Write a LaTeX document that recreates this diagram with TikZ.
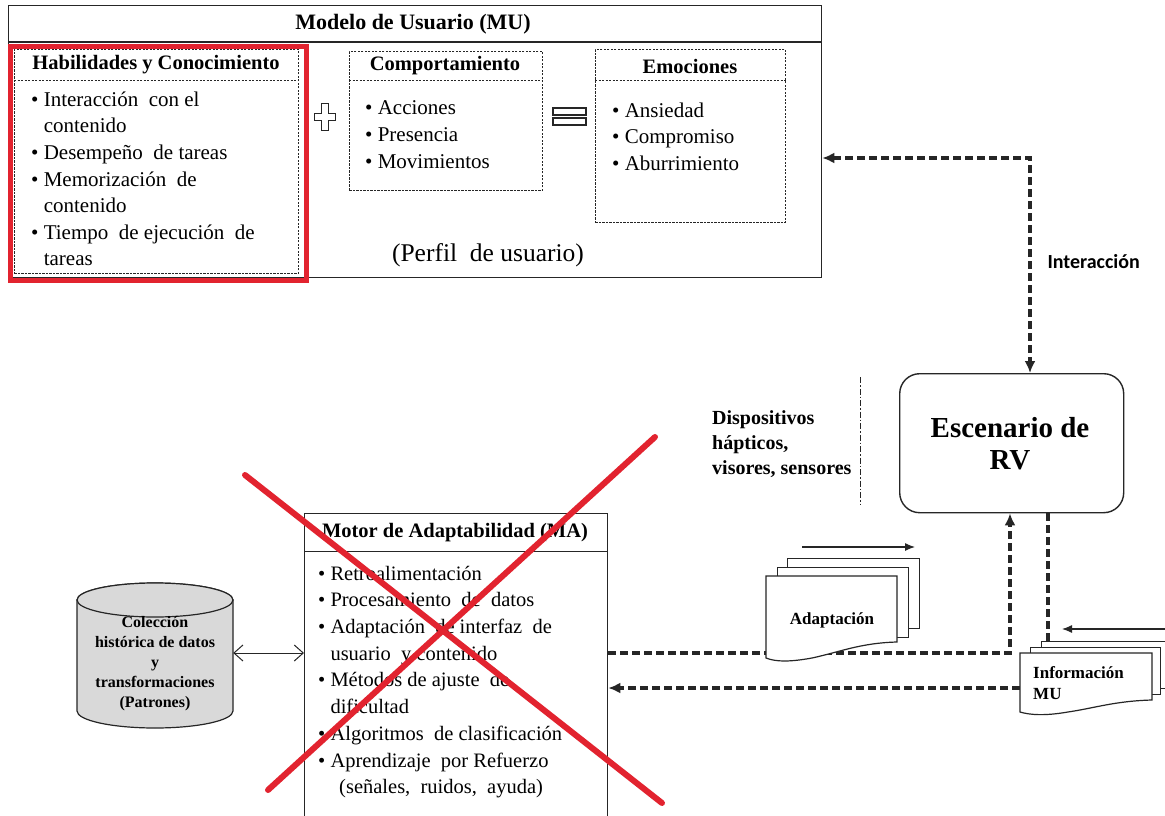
\documentclass[tikz,border=0pt]{standalone}
\usepackage{fontspec}
\setmainfont{Liberation Serif}
\newfontfamily\calibri{Carlito}
\usetikzlibrary{arrows.meta,calc}
\definecolor{xred}{HTML}{E2232F}
\definecolor{cylgray}{HTML}{D9D9D9}
\definecolor{ink}{HTML}{262626}

\begin{document}
\begin{tikzpicture}[x=1pt,y=-1pt,
  box/.style={draw=ink, line width=1.3pt, inner sep=0pt, anchor=north west},
  fine/.style={draw=ink, line width=0.9pt, dash pattern=on 2.2pt off 1.3pt},
  link/.style={draw=ink, line width=3.2pt, dash pattern=on 8pt off 4pt},
  bigtip/.style={-{Latex[length=12pt,width=11pt]}},
  thintip/.style={-{Latex[length=10pt,width=8pt]}},
  page/.style={draw=ink, line width=1.2pt, fill=white},
  sect/.style={font=\bfseries\fontsize{20.5}{24}\selectfont},
  list/.style={align=left, inner sep=0pt, anchor=north west},
  xline/.style={draw=xred, line width=6pt, line cap=round},
]
\useasboundingbox (0,0) rectangle (1165,816);
\fill[white] (0,0) rectangle (1165,816);

% ---------------- User model (MU) ----------------
\node[box, minimum width=813pt, minimum height=272pt] (mu) at (8,5) {};
\coordinate (muline) at (0,42);
\draw[draw=ink, line width=1.3pt] (mu.west |- muline) -- (mu.east |- muline);
\node[font=\bfseries\fontsize{22}{26}\selectfont] (mutitle) at (413,24) {Modelo de Usuario (MU)};

% Skills and knowledge
\node[fine, inner sep=0pt, anchor=north west, minimum width=284pt, minimum height=224pt] (hab) at (14,49) {};
\coordinate (hdr) at (0,80);
\draw[fine] (hab.west |- hdr) -- (hab.east |- hdr);
\node[sect] (habtitle) at (156,65) {Habilidades y Conocimiento};
\node[list, font=\fontsize{21}{26.6}\selectfont] (habtxt) at (31,87.4)
  {\strut\textbullet\ Interacción\ \ con el\\
   \phantom{\textbullet\ }contenido\\
   \textbullet\ Desempeño\ \ de tareas\\
   \textbullet\ Memorización\ \ de\\
   \phantom{\textbullet\ }contenido\\
   \textbullet\ Tiempo\ \ de ejecución\ \ de\\
   \phantom{\textbullet\ }tareas};
\node[draw=xred, line width=5pt, inner sep=0pt, anchor=north west, minimum width=296pt, minimum height=234pt] (focus) at (8,44) {};

% plus sign
\draw[draw=ink, line width=1.3pt] (321.5,103.5) -- (328.5,103.5) -- (328.5,113.5) -- (335.5,113.5)
  -- (335.5,120.5) -- (328.5,120.5) -- (328.5,130.5) -- (321.5,130.5) -- (321.5,120.5)
  -- (314.5,120.5) -- (314.5,113.5) -- (321.5,113.5) -- cycle;

% Behaviour
\node[fine, inner sep=0pt, anchor=north west, minimum width=193pt, minimum height=139pt] (comp) at (349,51) {};
\draw[fine] (comp.west |- hdr) -- (comp.east |- hdr);
\node[sect] (comptitle) at (445,66) {Comportamiento};
\node[list, font=\fontsize{21}{27.3}\selectfont] (comptxt) at (365,94.9)
  {\strut\textbullet\ Acciones\\
   \textbullet\ Presencia\\
   \textbullet\ Movimientos};

% equals sign
\draw[draw=ink, line width=1.4pt] (553,108) rectangle (586,115);
\draw[draw=ink, line width=1.4pt] (553,118) rectangle (586,125);

% Emotions
\node[fine, inner sep=0pt, anchor=north west, minimum width=190pt, minimum height=173pt] (emo) at (595,49) {};
\draw[fine] (emo.west |- hdr) -- (emo.east |- hdr);
\node[sect] (emotitle) at (690,66) {Emociones};
\node[list, font=\fontsize{21}{26.5}\selectfont] (emotxt) at (612,98.5)
  {\strut\textbullet\ Ansiedad\\
   \textbullet\ Compromiso\\
   \textbullet\ Aburrimiento};

\node[font=\fontsize{25.5}{30}\selectfont] (perfil) at (488,255) {(Perfil\ \ de usuario)};

% ---------------- VR scenario ----------------
\node[draw=ink, line width=1.4pt, rounded corners=20pt, anchor=north west,
      minimum width=224pt, minimum height=139pt] (esc) at (899,373) {};
\node[align=center, font=\bfseries\fontsize{29}{32}\selectfont] (esctxt) at (1010,444) {Escenario de\\RV};

\coordinate (ix) at (1030,0);
\coordinate (iy) at (0,158);
\draw[link, {Latex[length=12pt,width=11pt]}-{Latex[length=12pt,width=11pt]}]
  (mu.east |- iy) -- (ix |- iy) -- (esc.north -| ix);
\node[font=\calibri\bfseries\fontsize{20}{24}\selectfont, anchor=west] (ilab) at (1044,262) {Interacción};

% devices
\coordinate (sepT) at (860,377);
\coordinate (sepB) at (860,505);
\draw[draw=ink, line width=1pt, dash pattern=on 6pt off 2pt on 1.5pt off 2pt] (sepT) -- (sepB);
\node[list, font=\bfseries\fontsize{20}{25}\selectfont] (dev) at (712,406.5)
  {\strut Dispositivos\\hápticos,\\visores, sensores};

% ---------------- Adaptation engine (MA) ----------------
\node[box, minimum width=303pt, minimum height=38pt] (matitle) at (304,513) {};
\node[sect] (matxt) at (455,533) {Motor de Adaptabilidad (MA)};
\node[box, minimum width=303pt, minimum height=290pt] (ma) at (304,551) {};
\node[list, font=\fontsize{20.5}{26.7}\selectfont] (malist) at (318,561.3)
  {\strut\textbullet\ Retroalimentación\\
   \textbullet\ Procesamiento\ \ de\ \ datos\\
   \textbullet\ Adaptación\ \ de interfaz\ \ de\\
   \phantom{\textbullet\ }usuario\ \ y contenido\\
   \textbullet\ Métodos de ajuste\ \ de\\
   \phantom{\textbullet\ }dificultad\\
   \textbullet\ Algoritmos\ \ de clasificación\\
   \textbullet\ Aprendizaje\ \ por Refuerzo\\
   \hspace*{21pt}(señales,\ \ ruidos,\ \ ayuda)};

% ---------------- history database ----------------
\node[minimum width=156pt, minimum height=145pt, inner sep=0pt] (db) at (155,655.5) {};
\draw[draw=ink, line width=1.2pt, fill=cylgray]
  (77,600) -- (77,711) arc[start angle=180, end angle=360, x radius=78pt, y radius=17pt]
  -- (233,600) arc[start angle=0, end angle=180, x radius=78pt, y radius=17pt] -- cycle;
\draw[draw=ink, line width=1.2pt, fill=cylgray] (155,600) ellipse[x radius=78pt, y radius=17pt];
\node[align=center, font=\bfseries\fontsize{16}{20}\selectfont] (dbtxt) at (155,664)
  {Colección\\histórica de datos\\y\\transformaciones\\(Patrones)};
\coordinate (dy) at (0,653);
\draw[draw=ink, line width=1pt,
      {Straight Barb[length=9pt,width=16pt]}-{Straight Barb[length=9pt,width=16pt]}]
  (db.east |- dy) -- (ma.west |- dy);

% ---------------- data flows ----------------
\coordinate (ux) at (1010,0);
\coordinate (uy) at (0,653);
\draw[link, bigtip] (ma.east |- uy) -- (ux |- uy) -- (esc.south -| ux);

\coordinate (vx) at (1048,0);
\coordinate (vy) at (0,641);
\draw[link] (esc.south -| vx) -- (vx |- vy);

\coordinate (infw) at (1020,688);
\draw[link, bigtip] (infw) -- (ma.east |- infw);

% adaptation documents
\node[page, inner sep=0pt, anchor=north west, minimum width=132pt, minimum height=70pt] (ad3) at (787,558) {};
\node[page, inner sep=0pt, anchor=north west, minimum width=131pt, minimum height=70pt] (ad2) at (777,567) {};
\draw[page] (766,576) -- (897,576) -- (897,642)
  .. controls (860,643) and (840,652) .. (812,658)
  .. controls (790,662) and (776,662) .. (766,658) -- cycle;
\node[font=\bfseries\fontsize{17}{20}\selectfont] (adtxt) at (832,620) {Adaptación};
\coordinate (adA) at (802,547);
\coordinate (adB) at (915,547);
\draw[draw=ink, line width=1.2pt, thintip] (adA) -- (adB);

% user model information documents
\node[page, inner sep=0pt, anchor=north west, minimum width=140pt, minimum height=47pt] (in3) at (1041,641) {};
\node[page, inner sep=0pt, anchor=north west, minimum width=130pt, minimum height=47pt] (in2) at (1030,647) {};
\draw[page] (1020,653) -- (1152,653) -- (1152,700)
  .. controls (1115,701) and (1095,708) .. (1068,712)
  .. controls (1045,716) and (1030,715) .. (1020,712) -- cycle;
\node[list, font=\bfseries\fontsize{17}{21}\selectfont] (intxt) at (1033,663.3) {\strut Información\\MU};
\coordinate (inA) at (1165,629);
\coordinate (inB) at (1062,629);
\draw[draw=ink, line width=1.2pt, thintip] (inA) -- (inB);

% ---------------- crossing-out ----------------
\draw[xline] (245,475) -- (662,803);
\draw[xline] (655,437) -- (268,790);
\end{tikzpicture}
\end{document}
